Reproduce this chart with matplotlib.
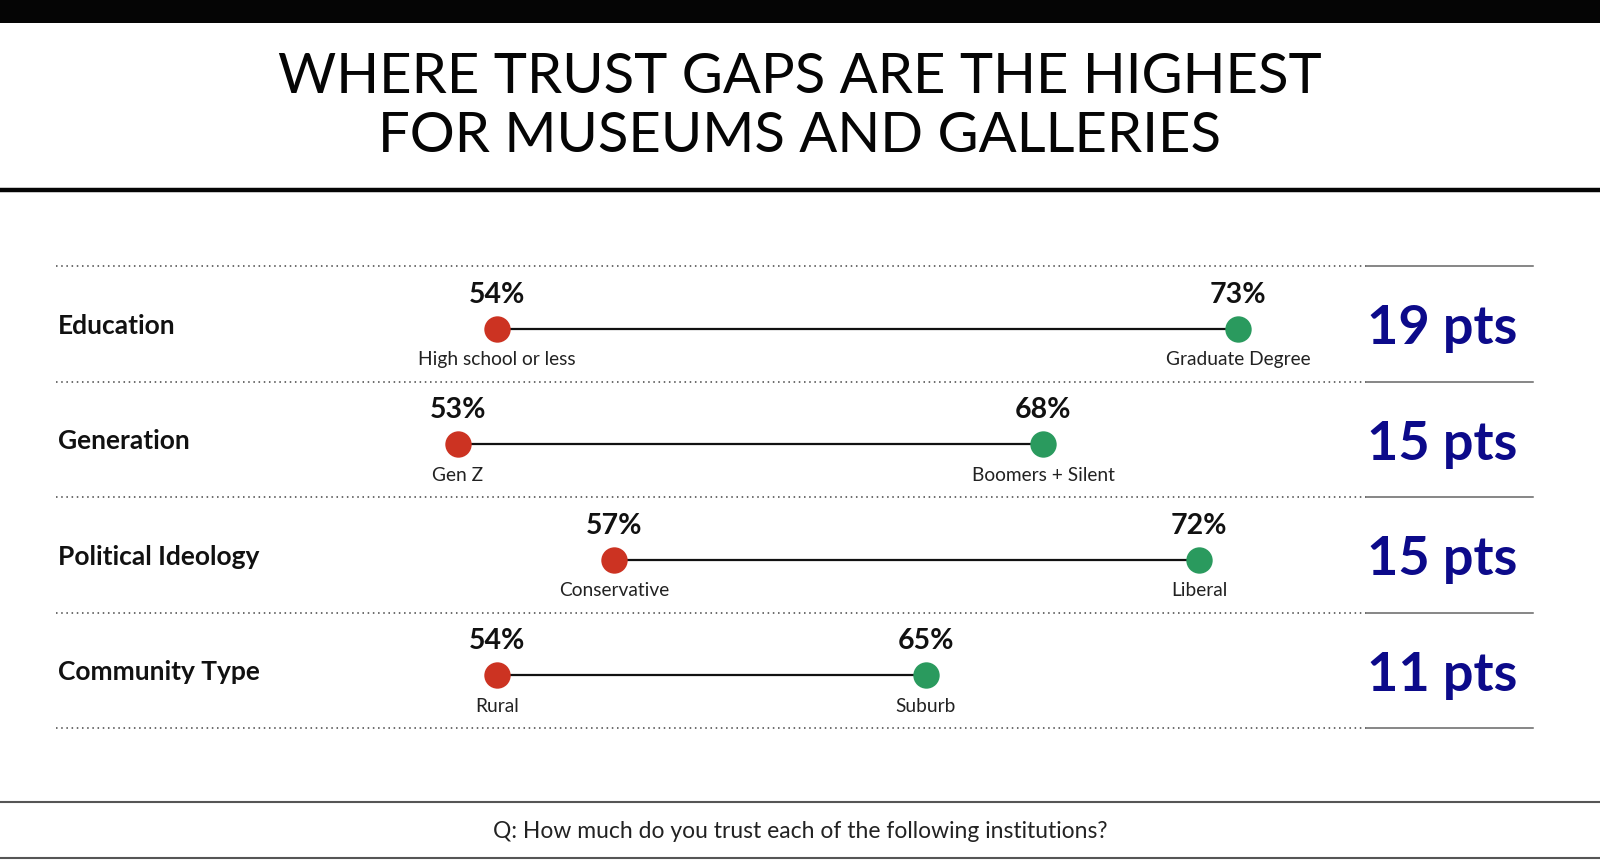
import matplotlib.pyplot as plt
import matplotlib.transforms as mtransforms
from matplotlib.patches import Rectangle

# data
categories = ["Education", "Generation", "Political Ideology", "Community Type"]
low_vals = [54, 53, 57, 54]
high_vals = [73, 68, 72, 65]
low_labels = ["High school or less", "Gen Z", "Conservative", "Rural"]
high_labels = ["Graduate Degree", "Boomers + Silent", "Liberal", "Suburb"]
gaps = [h - l for h, l in zip(high_vals, low_vals)]

title = "WHERE TRUST GAPS ARE THE HIGHEST\nFOR MUSEUMS AND GALLERIES"
question = "Q: How much do you trust each of the following institutions?"

RED = "#cc3322"
GREEN = "#2a9a5e"
NAVY = "#0c0a8a"

plt.rcParams['font.family'] = ['Lato', 'DejaVu Sans']

W, H = 1600, 860
fig = plt.figure(figsize=(16, 8.6), dpi=100)

# background axes in pixel coords for the frame
bg = fig.add_axes([0, 0, 1, 1])
bg.set_xlim(0, W)
bg.set_ylim(H, 0)
bg.axis('off')

bg.add_patch(Rectangle((0, 0), W, 23, color="#050505", lw=0))
bg.plot([0, W], [189.5, 189.5], color="#050505", lw=3.2, solid_capstyle='butt')
bg.plot([0, W], [802, 802], color="#555555", lw=1.5)
bg.plot([0, W], [858, 858], color="#555555", lw=1.5)

bg.text(W / 2, 107, title, ha='center', va='center', fontsize=40.5,
        linespacing=1.2, color="#050505")
bg.text(W / 2, 832, question, ha='center', va='center', fontsize=16.5,
        color="#222222")

# row separators
sep_top, row_h = 266, 115.5
for k in range(len(categories) + 1):
    y = sep_top + k * row_h
    bg.plot([56, 1367], [y, y], color="#444444", lw=1.1,
            linestyle=(0, (1, 2.4)))
    bg.plot([1367, 1533], [y, y], color="#666666", lw=1.1)

# dumbbell axes: x in percent
px_per_pct = 39.0
x0, x1 = 56, 1367
ax = fig.add_axes([x0 / W, 1 - (sep_top + 5 + 4 * row_h) / H,
                   (x1 - x0) / W, 4 * row_h / H])
ax.set_xlim(54 - (497 - x0) / px_per_pct, 54 + (x1 - 497) / px_per_pct)
ax.set_ylim(4, 0)
ax.axis('off')

ys = [i + 0.5 for i in range(len(categories))]
for y, lo, hi, ll, hl in zip(ys, low_vals, high_vals, low_labels, high_labels):
    ax.plot([lo, hi], [y, y], color="#111111", lw=1.6, zorder=1)
    ax.plot(lo, y, 'o', ms=19, color=RED, mec='none', zorder=2)
    ax.plot(hi, y, 'o', ms=19, color=GREEN, mec='none', zorder=2)
    for v, lab in ((lo, ll), (hi, hl)):
        ax.annotate(f"{v}%", (v, y), xytext=(0, 24.5), textcoords='offset points',
                    ha='center', va='center', fontsize=20.5, fontweight='bold',
                    color="#111111")
        ax.annotate(lab, (v, y), xytext=(0, -22.5), textcoords='offset points',
                    ha='center', va='center', fontsize=13.8, color="#222222")

tr = mtransforms.blended_transform_factory(fig.transFigure, ax.transData)
for y, cat, g in zip(ys, categories, gaps):
    fig.text(58 / W, y - 0.025, cat, transform=tr, ha='left', va='center',
             fontsize=19, fontweight='bold', color="#111111")
    fig.text(1442 / W, y, f"{g} pts", transform=tr, ha='center', va='center',
             fontsize=39, fontweight='bold', color=NAVY)

fig.savefig("out.png", dpi=100)
